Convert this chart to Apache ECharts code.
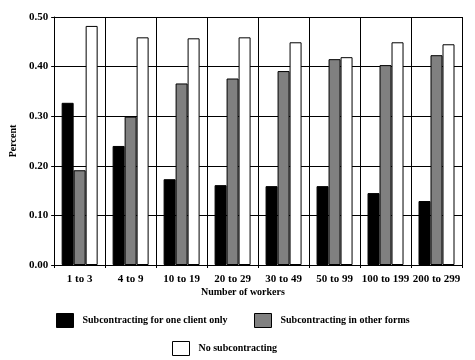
<!DOCTYPE html>
<html><head><meta charset="utf-8">
<script src="https://cdn.jsdelivr.net/npm/echarts@6/dist/echarts.min.js"></script>
<style>html,body{margin:0;padding:0;background:#fff}#c{width:475px;height:360px}</style>
</head><body><div id="c"></div>
<script>
const categories = ['1 to 3','4 to 9','10 to 19','20 to 29','30 to 49','50 to 99','100 to 199','200 to 299'];
const oneClient = [0.327,0.240,0.173,0.161,0.159,0.159,0.145,0.129];
const otherForms = [0.191,0.299,0.366,0.376,0.391,0.415,0.403,0.423];
const noSub = [0.482,0.459,0.457,0.459,0.449,0.419,0.449,0.445];
const seriesNames = ['Subcontracting for one client only','Subcontracting in other forms','No subcontracting'];
const yTicks = ['0.00','0.10','0.20','0.30','0.40','0.50'];

const font = 'Liberation Serif';
const txt = {fontFamily: font, fontWeight: 'bold', fontSize: 11, color: '#000'};
const txt10 = Object.assign({}, txt, {fontSize: 10});
const chart = echarts.init(document.getElementById('c'));
function legend(name, left, top){
  return {data:[name], left:left, top:top, padding:0, itemWidth:17, itemHeight:14, itemGap:0,
    icon:'rect', textStyle:Object.assign({}, txt10, {padding:[0,0,0,4]}), selectedMode:false,
    itemStyle:{borderColor:'#000', borderWidth:1}};
}
chart.setOption({
  animation:false,
  backgroundColor:'#fff',
  grid:{left:52, right:13, top:17, bottom:95},
  title:{text:'Number of workers', left:201, top:287, padding:0, textStyle:Object.assign({}, txt10)},
  legend:[legend(seriesNames[0],56,313), legend(seriesNames[1],254,313), legend(seriesNames[2],172,341)],
  xAxis:{type:'category', data:categories, boundaryGap:true,
    axisLine:{lineStyle:{color:'#000', width:1}},
    axisTick:{show:true, length:3, lineStyle:{color:'#000'}},
    axisLabel:Object.assign({}, txt, {margin:9, interval:0}),
    splitLine:{show:true, lineStyle:{color:'#000', width:1}}},
  yAxis:{type:'value', min:0, max:0.5, interval:0.1,
    name:'Percent', nameLocation:'middle', nameGap:31, nameRotate:90, nameTextStyle:Object.assign({}, txt10),
    axisLine:{show:true, lineStyle:{color:'#000'}},
    axisTick:{show:true, length:3, lineStyle:{color:'#000'}},
    axisLabel:Object.assign({}, txt, {margin:6, formatter:(v)=>yTicks[Math.round(v*10)]}),
    splitLine:{show:true, lineStyle:{color:'#000', width:1}}},
  series:[
    {name:seriesNames[0], type:'bar', data:oneClient, barWidth:12, barGap:'0%', itemStyle:{color:'#000', borderColor:'#000', borderWidth:1}},
    {name:seriesNames[1], type:'bar', data:otherForms, barWidth:12, barGap:'0%', itemStyle:{color:'#808080', borderColor:'#000', borderWidth:1}},
    {name:seriesNames[2], type:'bar', data:noSub, barWidth:12, barGap:'0%', itemStyle:{color:'#fff', borderColor:'#000', borderWidth:1}}
  ]
});
</script></body></html>
